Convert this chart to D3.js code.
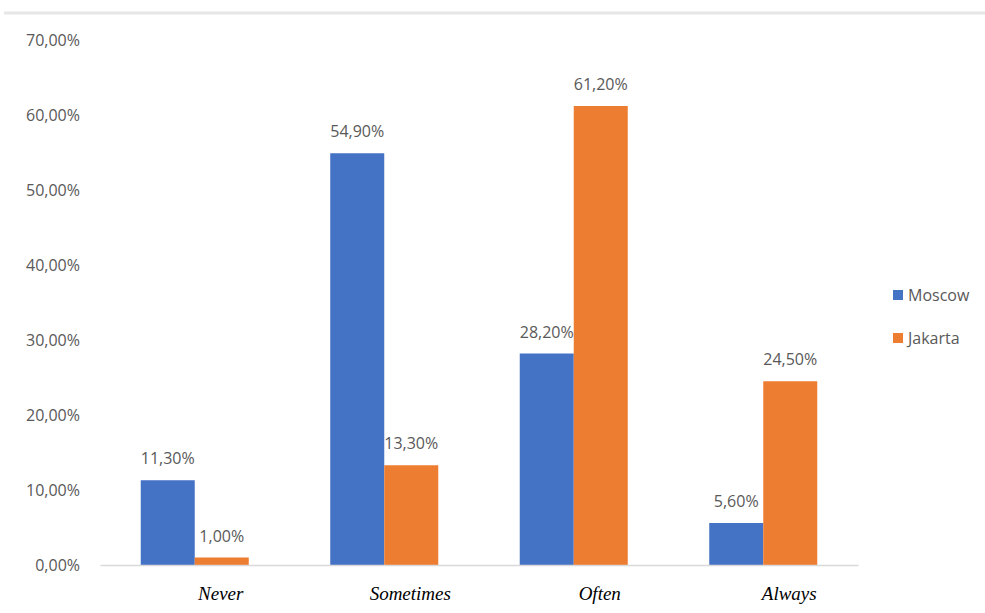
<!DOCTYPE html>
<html>
<head>
<meta charset="utf-8">
<script src="https://cdn.jsdelivr.net/npm/d3@7"></script>
<style>
  body { margin: 0; background: #fff; }
  svg text { font-family: "Open Sans", sans-serif; }
</style>
</head>
<body>
<div id="chart"></div>
<script>
// chart data
var categories = ['Never', 'Sometimes', 'Often', 'Always'];
var seriesNames = ['Moscow', 'Jakarta'];
var moscow = [11.3, 54.9, 28.2, 5.6];
var jakarta = [1.0, 13.3, 61.2, 24.5];
var yTicks = [0, 10, 20, 30, 40, 50, 60, 70];

var W = 985, H = 613;
var margin = {top: 40, right: 127, bottom: 48, left: 100},
    width = W - margin.left - margin.right,
    height = H - margin.top - margin.bottom;

var colors = d3.scaleOrdinal().domain(seriesNames).range(['#4472C4', '#ED7D31']);

var svg = d3.select('#chart')
    .append('svg')
    .attr('width', W)
    .attr('height', H);

// light frame line at the top
svg.append('line')
    .attr('x1', 4).attr('x2', W)
    .attr('y1', 13).attr('y2', 13)
    .attr('stroke', '#e6e6e6')
    .attr('stroke-width', 3);

var g = svg.append('g')
    .attr('transform', 'translate(' + margin.left + ',' + margin.top + ')');

var x0 = d3.scaleBand().domain(categories).range([0, width]).padding(0);
var gap = x0.bandwidth() * 0.215;
var x1 = d3.scaleBand().domain(seriesNames).range([gap, x0.bandwidth() - gap]).padding(0);
var y = d3.scaleLinear().domain([0, 70]).range([height, 0]);

var fmt = function(v) { return v.toFixed(2).replace('.', ',') + '%'; };

// y axis labels
var yAxis = d3.axisLeft(y).tickValues(yTicks).tickSize(0).tickPadding(20)
    .tickFormat(function(d) { return fmt(d); });
var yg = g.append('g').call(yAxis);
yg.select('.domain').remove();
yg.selectAll('text')
    .attr('fill', '#595959')
    .style('font-size', '16px');

// bars
var rows = categories.map(function(c, i) {
  return {cat: c, values: [{key: 'Moscow', value: moscow[i]}, {key: 'Jakarta', value: jakarta[i]}]};
});

var group = g.selectAll('.cat')
    .data(rows)
    .enter().append('g')
    .attr('class', 'cat')
    .attr('transform', function(d) { return 'translate(' + x0(d.cat) + ',0)'; });

group.selectAll('rect')
    .data(function(d) { return d.values; })
  .enter().append('rect')
    .attr('x', function(d) { return x1(d.key); })
    .attr('y', function(d) { return y(d.value); })
    .attr('width', x1.bandwidth())
    .attr('height', function(d) { return height - y(d.value); })
    .attr('fill', function(d) { return colors(d.key); });

group.selectAll('.lbl')
    .data(function(d) { return d.values; })
  .enter().append('text')
    .attr('class', 'lbl')
    .attr('x', function(d) { return x1(d.key) + x1.bandwidth() / 2; })
    .attr('y', function(d) { return y(d.value) - 16; })
    .attr('text-anchor', 'middle')
    .attr('fill', '#595959')
    .style('font-size', '16px')
    .text(function(d) { return fmt(d.value); });

// x axis
var xAxis = d3.axisBottom(x0).tickSize(0).tickPadding(22);
var xg = g.append('g')
    .attr('transform', 'translate(0,' + height + ')')
    .call(xAxis);
xg.select('.domain').attr('stroke', '#d9d9d9').attr('stroke-width', 1.5);
xg.selectAll('text')
    .attr('dx', '26')
    .attr('fill', '#000')
    .style('font-family', '"Liberation Serif", "Times New Roman", serif')
    .style('font-style', 'italic')
    .style('font-size', '19px');

// legend
var legend = svg.append('g')
    .selectAll('g')
    .data(seriesNames)
    .enter().append('g')
    .attr('transform', function(d, i) { return 'translate(893,' + (290 + i * 43) + ')'; });

legend.append('rect')
    .attr('width', 10)
    .attr('height', 10)
    .attr('fill', colors);

legend.append('text')
    .attr('x', 15)
    .attr('y', 5)
    .attr('dy', '0.35em')
    .attr('fill', '#595959')
    .style('font-size', '16px')
    .text(function(d) { return d; });
</script>
</body>
</html>
